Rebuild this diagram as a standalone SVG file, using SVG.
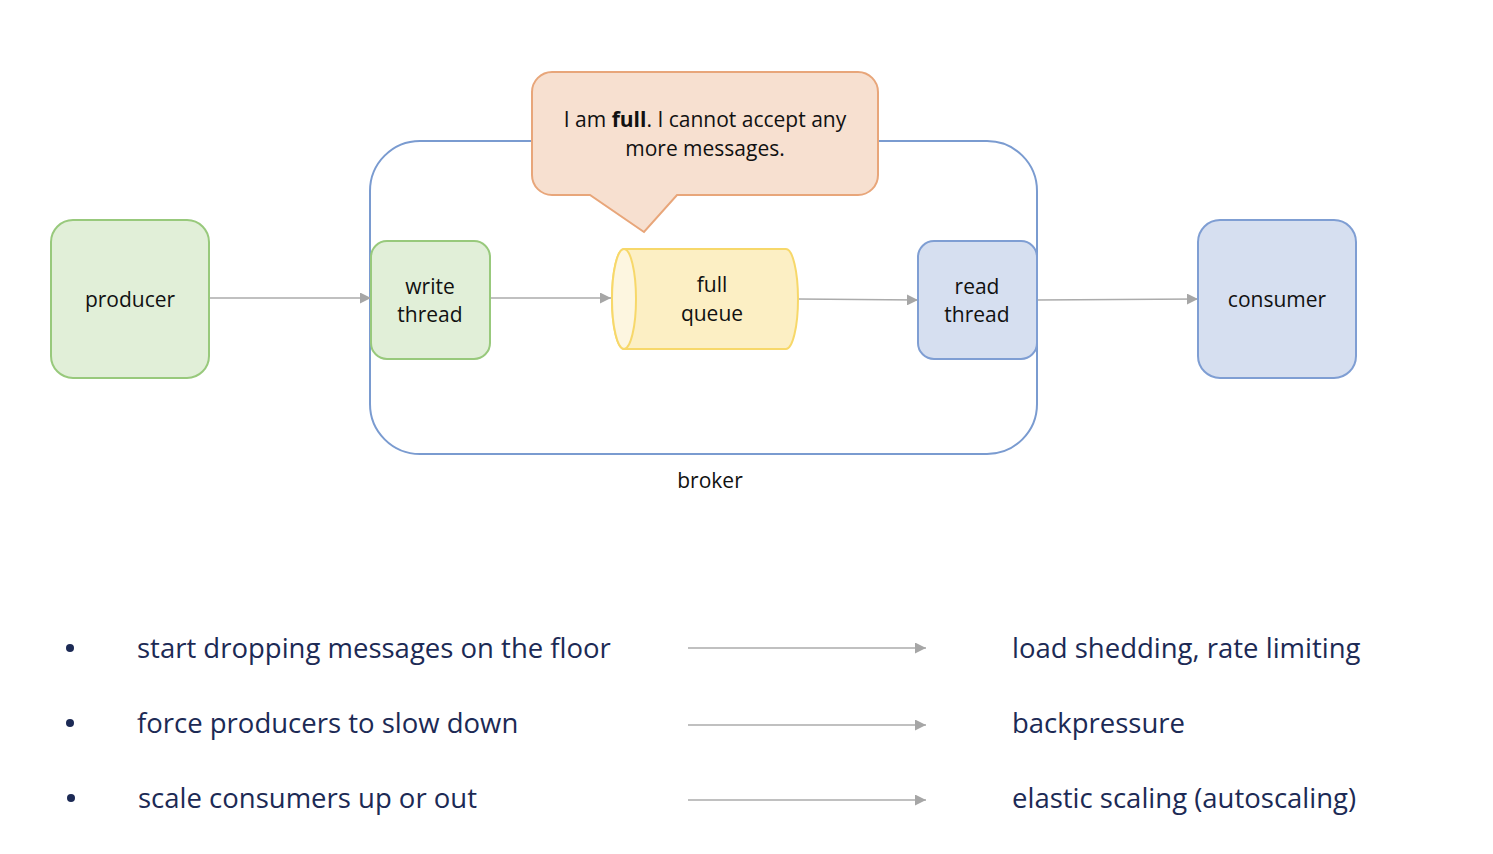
<svg xmlns="http://www.w3.org/2000/svg" width="1493" height="854" viewBox="0 0 1493 854">
<style>
text{font-family:"Open Sans","Liberation Sans",sans-serif;fill:#111}
.n{font-size:21px;text-anchor:middle}
.g{fill:#e1efd8;stroke:#98c97c;stroke-width:2}
.b{fill:#d6dff0;stroke:#7f9ed3;stroke-width:2}
.c{stroke:#ababab;stroke-width:1.5;fill:none;marker-end:url(#ah)}
.l{font-size:27.5px;fill:#1c2a55}
</style>
<defs>
<marker id="ah" viewBox="0 0 10 10" refX="10" refY="5" markerWidth="11" markerHeight="11" markerUnits="userSpaceOnUse" orient="auto"><path d="M0,0L10,5L0,10z" fill="#a6a6a6"/></marker>
</defs>
<rect width="1493" height="854" fill="#fff"/>
<g id="broker">
<rect x="370" y="141" width="667" height="313" rx="50" fill="none" stroke="#7a9bd0" stroke-width="2"/>
<text class="n" x="710" y="488">broker</text>
</g>
<g id="connectors">
<line class="c" x1="210" y1="298" x2="371" y2="298"/>
<line class="c" x1="490" y1="298" x2="611" y2="298"/>
<line class="c" x1="798" y1="299" x2="918" y2="300"/>
<line class="c" x1="1037" y1="300" x2="1198" y2="299"/>
</g>
<g id="producer">
<rect class="g" x="51" y="220" width="158" height="158" rx="22"/>
<text class="n" x="130" y="307">producer</text>
</g>
<g id="write-thread">
<rect class="g" x="371" y="241" width="119" height="118" rx="16"/>
<text class="n" x="430" y="294">write</text>
<text class="n" x="430" y="322">thread</text>
</g>
<g id="full-queue">
<path d="M624,249H786A12,50 0 0 1 786,349H624A12,50 0 0 1 624,249Z" fill="#fcefc4" stroke="#f7d86a" stroke-width="2"/>
<path d="M624,249A12,50 0 0 1 624,349A12,50 0 0 1 624,249Z" fill="#fdf6e0" stroke="#f7d86a" stroke-width="2"/>
<text class="n" x="712" y="292">full</text>
<text class="n" x="712" y="321">queue</text>
</g>
<g id="read-thread">
<rect class="b" x="918" y="241" width="119" height="118" rx="16"/>
<text class="n" x="977" y="294">read</text>
<text class="n" x="977" y="322">thread</text>
</g>
<g id="consumer">
<rect class="b" x="1198" y="220" width="158" height="158" rx="22"/>
<text class="n" x="1277" y="307">consumer</text>
</g>
<g id="callout">
<path d="M552,72H858A20,20 0 0 1 878,92V175A20,20 0 0 1 858,195H677L644,232L590,195H552A20,20 0 0 1 532,175V92A20,20 0 0 1 552,72Z" fill="#f7e0d0" stroke="#e8a67a" stroke-width="2"/>
<text class="n" x="705" y="127">I am <tspan font-weight="bold">full</tspan>. I cannot accept any</text>
<text class="n" x="705" y="156">more messages.</text>
</g>
<g id="list">
<circle cx="70" cy="648" r="4" fill="#1c2a55"/>
<circle cx="70" cy="723" r="4" fill="#1c2a55"/>
<circle cx="71" cy="798" r="4" fill="#1c2a55"/>
<text class="l" x="137" y="658">start dropping messages on the floor</text>
<text class="l" x="137" y="733">force producers to slow down</text>
<text class="l" x="138" y="808">scale consumers up or out</text>
<text class="l" x="1012" y="658">load shedding, rate limiting</text>
<text class="l" x="1012" y="733">backpressure</text>
<text class="l" x="1012" y="808">elastic scaling (autoscaling)</text>
</g>
<g id="list-connectors">
<line class="c" x1="688" y1="648" x2="926" y2="648"/>
<line class="c" x1="688" y1="725" x2="926" y2="725"/>
<line class="c" x1="688" y1="800" x2="926" y2="800"/>
</g>
</svg>
